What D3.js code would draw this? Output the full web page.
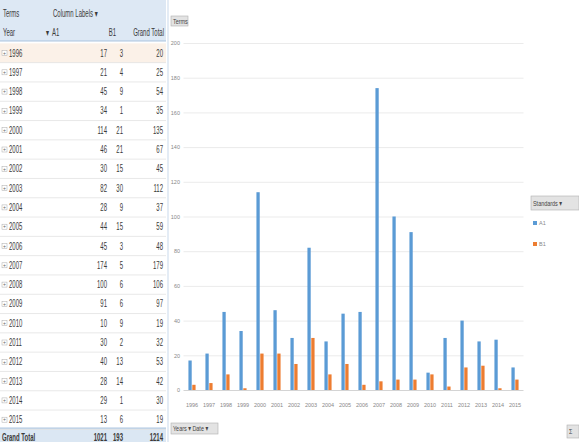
<!DOCTYPE html>
<html>
<head>
<meta charset="utf-8">
<script src="https://cdn.jsdelivr.net/npm/d3@7/dist/d3.min.js"></script>
<style>
html,body{margin:0;padding:0;background:#fff;}
svg{display:block;font-family:"Liberation Sans","DejaVu Sans",sans-serif;}
</style>
</head>
<body>
<svg id="c" width="579" height="442"></svg>
<script>
const years = ["1996","1997","1998","1999","2000","2001","2002","2003","2004","2005","2006","2007","2008","2009","2010","2011","2012","2013","2014","2015"];
const seriesA1 = [17,21,45,34,114,46,30,82,28,44,45,174,100,91,10,30,40,28,29,13];
const seriesB1 = [3,4,9,1,21,21,15,30,9,15,3,5,6,6,9,2,13,14,1,6];
const seriesNames = ["A1","B1"];
const yTicks = [0,20,40,60,80,100,120,140,160,180,200];
const colors = ["#5b9bd5","#ed7d31"];

const svg = d3.select("#c");

// condensed text helper
function ctext(g,x,y,s,opt){
  opt = opt||{};
  return g.append("text")
    .attr("transform",`translate(${x},${y}) scale(${opt.sx||0.6},1)`)
    .attr("dy","0.35em")
    .attr("text-anchor",opt.anchor||"start")
    .attr("font-size",opt.size||10)
    .attr("fill",opt.fill||"#3a3a3a")
    .attr("font-weight",opt.weight||"normal")
    .text(s);
}

// ---------- Pivot table ----------
const tbl = svg.append("g");
const rowH = 19.3, firstRow = 53;
const rowY = d3.scaleLinear().domain([0,1]).range([firstRow, firstRow+rowH]);
tbl.append("rect").attr("x",0).attr("y",0).attr("width",166).attr("height",41).attr("fill","#dde8f4");
tbl.append("rect").attr("x",0).attr("y",firstRow-rowH/2).attr("width",166).attr("height",rowH).attr("fill","#fbf1e8");
const gtY = rowY(years.length)-2;
tbl.append("rect").attr("x",0).attr("y",gtY-9).attr("width",166).attr("height",442-gtY+9).attr("fill","#dbe7f3");
ctext(tbl,3,13,"Terms"); ctext(tbl,53,13,"Column Labels ▾");
ctext(tbl,3,32,"Year"); ctext(tbl,46,32,"▾"); ctext(tbl,52,32,"A1"); ctext(tbl,116,32,"B1",{anchor:"end"}); ctext(tbl,164,32,"Grand Total",{anchor:"end"});
tbl.append("line").attr("x1",0).attr("x2",166).attr("y1",41).attr("y2",41).attr("stroke","#9bb7d8").attr("stroke-width",0.8);
years.forEach((yr,i)=>{
  const cy = rowY(i);
  tbl.append("line").attr("x1",0).attr("x2",166).attr("y1",cy+rowH/2).attr("y2",cy+rowH/2).attr("stroke","#e2e2e2").attr("stroke-width",0.8);
  tbl.append("rect").attr("x",2).attr("y",cy-2.5).attr("width",5).attr("height",5).attr("fill","#fff").attr("stroke","#aaa").attr("stroke-width",0.5);
  tbl.append("text").attr("x",4.5).attr("y",cy).attr("dy","0.35em").attr("text-anchor","middle").attr("font-size",5).attr("fill","#666").text("+");
  ctext(tbl,9,cy,yr);
  ctext(tbl,107,cy,seriesA1[i],{anchor:"end"});
  ctext(tbl,123,cy,seriesB1[i],{anchor:"end"});
  ctext(tbl,163,cy,seriesA1[i]+seriesB1[i],{anchor:"end"});
});
const sA = d3.sum(seriesA1), sB = d3.sum(seriesB1);
ctext(tbl,2,gtY,"Grand Total",{weight:"bold"});
ctext(tbl,107,gtY,sA,{anchor:"end",weight:"bold"});
ctext(tbl,123,gtY,sB,{anchor:"end",weight:"bold"});
ctext(tbl,163,gtY,sA+sB,{anchor:"end",weight:"bold"});
tbl.append("line").attr("x1",0).attr("x2",166).attr("y1",gtY-9).attr("y2",gtY-9).attr("stroke","#9bb7d8").attr("stroke-width",0.8);

// ---------- Chart ----------
const ch = svg.append("g");
ch.append("line").attr("x1",168).attr("x2",168).attr("y1",0).attr("y2",442).attr("stroke","#e4ecf5").attr("stroke-width",2);
const x = d3.scaleBand().domain(years).range([183.5,523.5]).paddingInner(0.58).paddingOuter(0.29);
const xs = d3.scaleBand().domain(seriesNames).range([0,x.bandwidth()]).paddingInner(0.15);
const y = d3.scaleLinear().domain([0,200]).range([390,43]);

const grid = ch.append("g").attr("transform","translate(183.5,0)")
  .call(d3.axisLeft(y).tickValues(yTicks).tickSize(-340).tickFormat(""));
grid.select(".domain").remove();
grid.selectAll(".tick line").attr("stroke",d=>d===0?"#d4d4d4":"#ebebeb").attr("stroke-width",1);

const yl = ch.append("g").attr("transform","translate(181,0)")
  .call(d3.axisLeft(y).tickValues(yTicks).tickSize(0).tickPadding(1));
yl.select(".domain").remove();
yl.selectAll("text").attr("font-size",5.5).attr("fill","#888");

const groups = ch.append("g").selectAll("g").data(years).join("g")
  .attr("transform",d=>`translate(${x(d)},0)`);
groups.selectAll("rect").data((d,i)=>[{k:"A1",v:seriesA1[i]},{k:"B1",v:seriesB1[i]}]).join("rect")
  .attr("x",d=>xs(d.k)).attr("width",xs.bandwidth())
  .attr("y",d=>y(d.v)).attr("height",d=>y(0)-y(d.v))
  .attr("fill",(d,i)=>colors[i]);

const xa = ch.append("g").attr("transform","translate(0,396)")
  .call(d3.axisBottom(x).tickSize(0).tickPadding(7));
xa.select(".domain").remove();
xa.selectAll("text").attr("font-size",5.5).attr("fill","#888");

// field buttons
function button(x0,y0,w,h,label){
  ch.append("rect").attr("x",x0).attr("y",y0).attr("width",w).attr("height",h).attr("fill","#e3e3e3").attr("stroke","#b0b0b0").attr("stroke-width",0.6);
  ctext(ch,x0+2,y0+h/2,label,{size:8,fill:"#444",sx:0.68});
}
button(171,16,17,10,"Terms");
button(171,423,47,11,"Years ▾  Date ▾");
button(531,196,48,14,"Standards ▾");
button(567,425,12,13,"Σ");

// legend
const lg = ch.append("g").attr("transform","translate(533,223)");
seriesNames.forEach((n,i)=>{
  lg.append("rect").attr("x",0).attr("y",i*21-2).attr("width",4).attr("height",4).attr("fill",colors[i]);
  lg.append("text").attr("x",6).attr("y",i*21).attr("dy","0.35em").attr("font-size",5.5).attr("fill","#888").text(n);
});
</script>
</body>
</html>
